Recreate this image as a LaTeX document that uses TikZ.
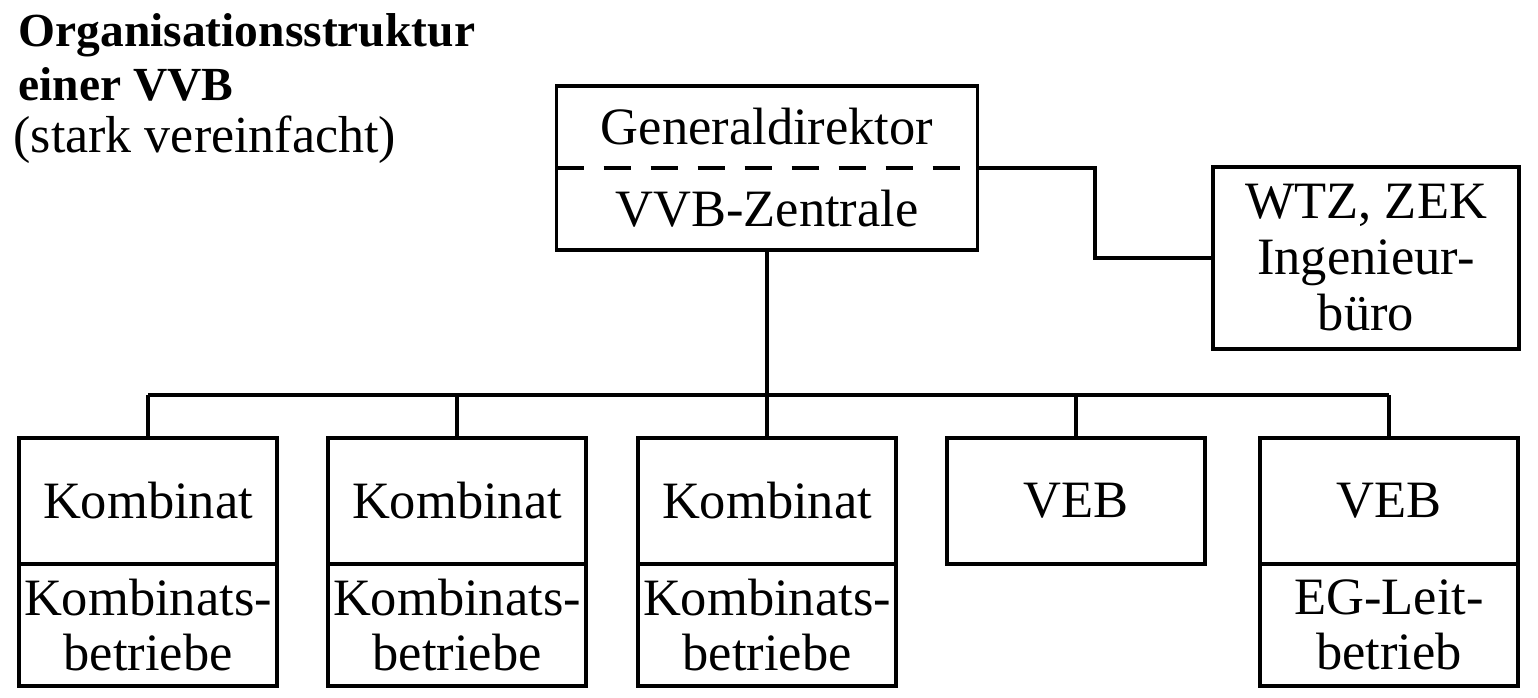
\documentclass[tikz,border=0pt]{standalone}
\usepackage{fontspec}
\setmainfont{Liberation Serif}
\usepackage{tikz}
\usetikzlibrary{positioning, calc}
\tikzset{
  orgbox/.style={draw, line width=3.8pt, outer sep=0pt, inner sep=2pt,
                 minimum width=258pt, align=center},
  upperbox/.style={orgbox, minimum height=126pt},
  lowerbox/.style={orgbox, minimum height=122pt},
  link/.style={line width=3.8pt}
}
\begin{document}
\begin{tikzpicture}[x=1pt, y=-1pt, font=\fontsize{52.5}{55}\selectfont]
\useasboundingbox (0,0) rectangle (1538,698);

\node[anchor=base west, font=\fontsize{47.5}{50}\selectfont\bfseries] (title1) at (15,47) {Organisationsstruktur};
\node[anchor=base west, font=\fontsize{47.5}{50}\selectfont\bfseries] (title2) at (15,101) {einer VVB};
\node[anchor=base west, font=\fontsize{52}{54}\selectfont] (title3) at (10,152) {(stark vereinfacht)};

\node[orgbox, minimum width=421pt, minimum height=164pt] (zentrale) at (767,168) {};
\node (gendir) at ($(zentrale.center)!0.5!(zentrale.north)$) {Generaldirektor};
\node (vvbz) at ($(zentrale.center)!0.5!(zentrale.south)$) {VVB-Zentrale};
\draw[dashed, dash pattern=on 27pt off 20pt, line width=3.8pt] (zentrale.west) -- (zentrale.east);

\node[orgbox, minimum width=306pt, minimum height=182pt, font=\fontsize{52.5}{56}\selectfont] (wtz) at (1366,258) {WTZ, ZEK\\Ingenieur-\\büro};
\draw[link] (zentrale.east) -| ($(zentrale.east)!0.5!(wtz.west)$) |- (wtz.west);

\foreach \n/\x in {1/148, 2/457, 3/767} {
  \node[upperbox] (komb\n) at (\x,501) {Kombinat};
  \node[lowerbox, below=0pt of komb\n] (betr\n) {Kombinats-\\betriebe};
}
\node[upperbox] (veb1) at (1076,501) {VEB};
\node[upperbox] (veb2) at (1389,501) {VEB};
\node[lowerbox, below=0pt of veb2] (leit) {EG-Leit-\\betrieb};

\coordinate (bus) at (767,395);
\draw[link] (zentrale.south) -- (bus);
\draw[link] (komb1.north |- bus) -- (veb2.north |- bus);
\foreach \n in {komb1, komb2, komb3, veb1, veb2}
  \draw[link] (\n.north |- bus) -- (\n.north);
\end{tikzpicture}
\end{document}
